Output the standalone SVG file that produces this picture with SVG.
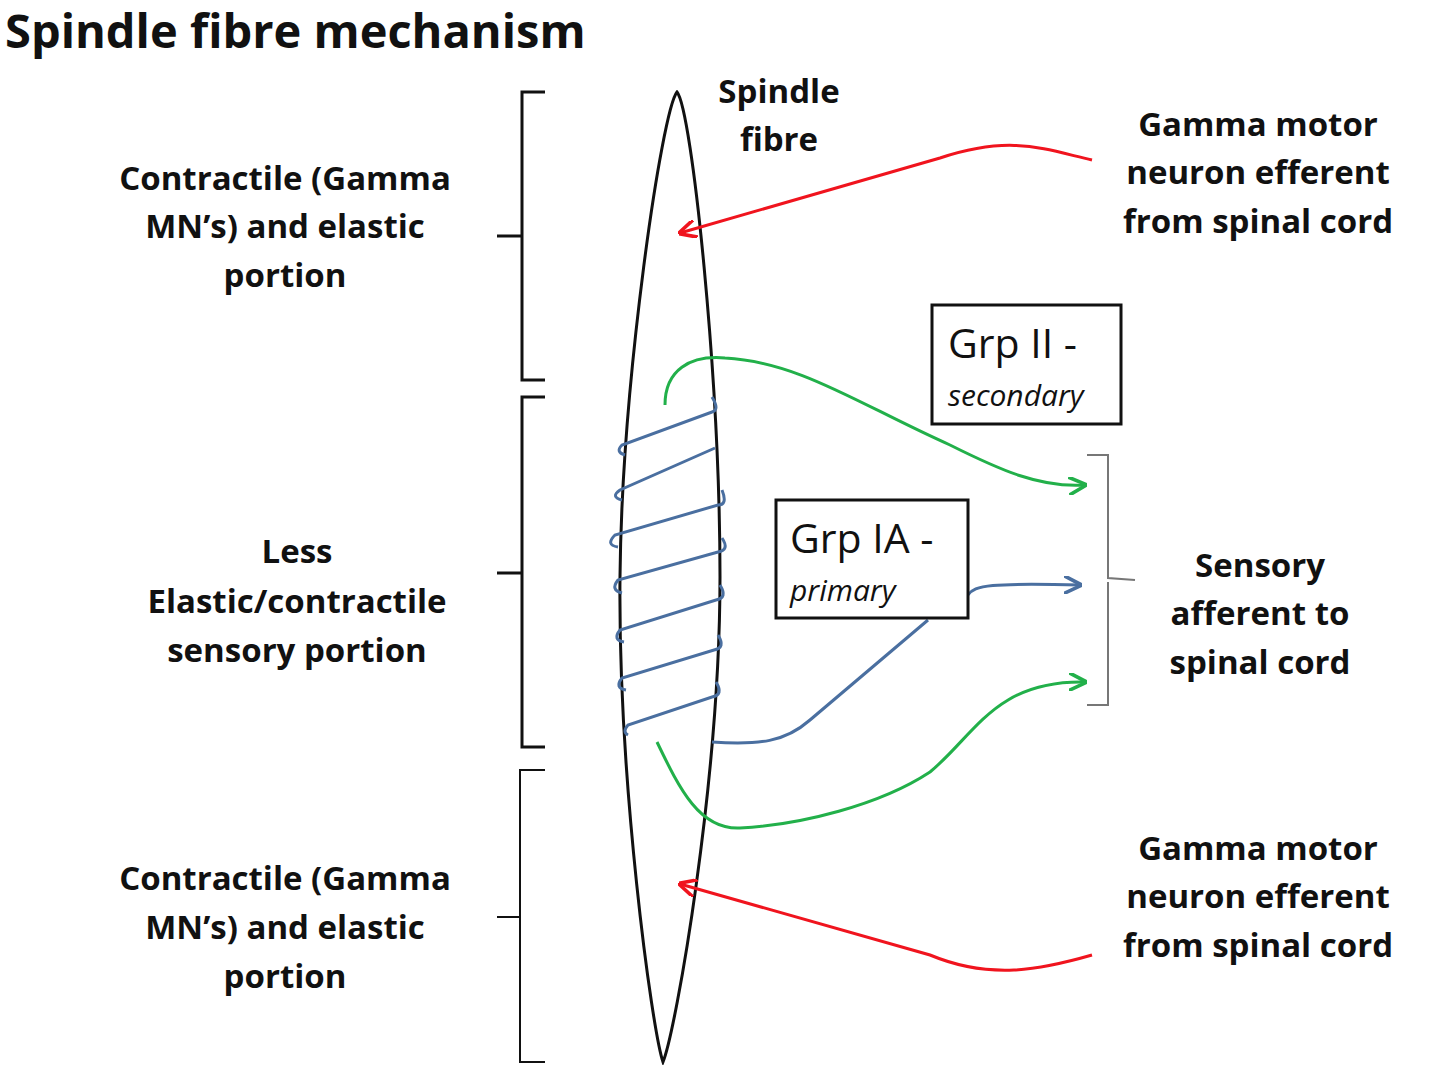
<svg xmlns="http://www.w3.org/2000/svg" width="1440" height="1065" viewBox="0 0 1440 1065">
<defs>
<style>
.t{font-family:"Open Sans","Liberation Sans",sans-serif;font-weight:bold;font-size:33px;fill:#111;text-anchor:middle}
.br{fill:none;stroke:#111;stroke-width:3}
.red{fill:none;stroke:#f0141e;stroke-width:3}
.grn{fill:none;stroke:#22b04a;stroke-width:3}
.blu{fill:none;stroke:#4a6fa0;stroke-width:3}
.box{fill:#fff;stroke:#111;stroke-width:3}
.bt{font-family:"Open Sans","Liberation Sans",sans-serif;font-size:41px;fill:#111}
.bi{font-family:"Open Sans","Liberation Sans",sans-serif;font-size:30px;font-style:italic;fill:#111}
</style>
<marker id="ag" viewBox="0 0 10 10" refX="9" refY="5" markerWidth="6" markerHeight="6" orient="auto"><path d="M0,0 L10,5 L0,10" fill="none" stroke="#22b04a" stroke-width="2"/></marker>
<marker id="ab" viewBox="0 0 10 10" refX="9" refY="5" markerWidth="6" markerHeight="6" orient="auto"><path d="M0,0 L10,5 L0,10" fill="none" stroke="#4a6fa0" stroke-width="2"/></marker>
<marker id="arr" viewBox="0 0 10 10" refX="9" refY="5" markerWidth="6" markerHeight="6" orient="auto"><path d="M0,0 L10,5 L0,10" fill="none" stroke="#f0141e" stroke-width="2"/></marker>
</defs>
<text x="5" y="48" style="font-family:'Open Sans','Liberation Sans',sans-serif;font-weight:bold;font-size:47px;fill:#111">Spindle fibre mechanism</text>

<g id="spindle"><path d="M677,92 C662,110 622,380 620,577 C618,780 652,1030 663,1062 C676,1030 720,780 720,577 C720,380 692,110 677,92 Z" fill="none" stroke="#111" stroke-width="3"/>
<text class="t" x="779" y="103">Spindle</text><text class="t" x="779" y="151">fibre</text></g>

<g id="brackets">
<path class="br" d="M545,92 H522 V236 H497 M522,236 V380 H545"/>
<path class="br" d="M545,397 H522 V573 H497 M522,573 V747 H545"/>
<path class="br" style="stroke-width:2" d="M545,770 H520 V917 H497 M520,917 V1062 H545"/>
<path fill="none" stroke="#777" stroke-width="2" d="M1087,455 H1108 V578 L1135,580 M1108,582 V705 H1087"/>
</g>

<g id="labels">
<text class="t" x="285" y="190">Contractile (Gamma</text><text class="t" x="285" y="238">MN’s) and elastic</text><text class="t" x="285" y="287">portion</text>
<text class="t" x="297" y="563">Less</text><text class="t" x="297" y="613">Elastic/contractile</text><text class="t" x="297" y="662">sensory portion</text>
<text class="t" x="285" y="890">Contractile (Gamma</text><text class="t" x="285" y="939">MN’s) and elastic</text><text class="t" x="285" y="988">portion</text>
<text class="t" x="1258" y="136">Gamma motor</text><text class="t" x="1258" y="184">neuron efferent</text><text class="t" x="1258" y="233">from spinal cord</text>
<text class="t" x="1258" y="860">Gamma motor</text><text class="t" x="1258" y="908">neuron efferent</text><text class="t" x="1258" y="957">from spinal cord</text>
<text class="t" x="1260" y="577">Sensory</text><text class="t" x="1260" y="625">afferent to</text><text class="t" x="1260" y="674">spinal cord</text>
</g>

<g id="connectors">
<path class="red" marker-end="url(#arr)" d="M1092,160 C1040,148 1010,135 940,158 L680,233"/>
<path class="red" marker-end="url(#arr)" d="M1092,955 C1040,970 990,980 930,955 L680,884"/>
<path class="grn" marker-end="url(#ag)" d="M665,405 C665,370 690,355 725,358 C800,362 860,405 950,445 C1000,470 1040,488 1085,485"/>
<path class="grn" marker-end="url(#ag)" d="M657,742 C680,790 700,830 740,828 C800,825 880,805 930,772 C975,735 995,680 1085,682"/>
<path class="blu" d="M712,742 C760,745 785,742 810,720 L928,620"/>
<path class="blu" marker-end="url(#ab)" d="M968,595 C975,585 990,583 1080,585"/>
<g class="blu">
<path d="M712,397 Q720,410 712,412 L622,445 Q615,452 625,455"/>
<path d="M715,448 L620,490 Q610,497 622,500"/>
<path d="M722,490 Q728,505 718,505 L615,535 Q605,545 618,547"/>
<path d="M722,538 Q730,550 718,552 L618,580 Q610,590 622,593"/>
<path d="M720,585 Q728,598 716,600 L620,630 Q612,640 624,642"/>
<path d="M718,635 Q726,648 714,650 L622,678 Q614,688 626,690"/>
<path d="M716,682 Q724,695 712,697 L628,725 Q622,732 628,735"/>
</g>
</g>

<g id="grpII"><rect class="box" x="932" y="305" width="189" height="119"/>
<text class="bt" x="948" y="358">Grp II -</text><text class="bi" x="948" y="406">secondary</text></g>
<g id="grpIA"><rect class="box" x="776" y="500" width="192" height="118"/>
<text class="bt" x="790" y="553">Grp IA -</text><text class="bi" x="790" y="601">primary</text></g>
</svg>
